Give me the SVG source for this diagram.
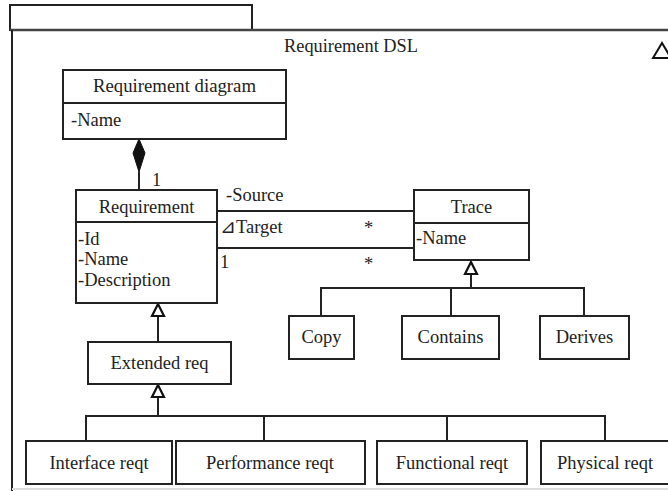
<svg xmlns="http://www.w3.org/2000/svg" width="668" height="491" viewBox="0 0 668 491" font-family="'Liberation Serif', 'DejaVu Serif', serif">
<style>
  .box{fill:#fff;stroke:#222;stroke-width:2}
  .ln{fill:none;stroke:#222;stroke-width:2}
  .gen{fill:#fff;stroke:#111;stroke-width:2.2;stroke-linejoin:miter}
  text{font-family:'Liberation Serif','DejaVu Serif',serif;font-size:18.5px;fill:#222}
  .c{text-anchor:middle}
</style>
<rect width="668" height="491" fill="#fff"/>
<g id="frame">
  <rect x="10" y="5" width="242" height="25" fill="none" stroke="#222" stroke-width="2"/>
  <line x1="10" y1="30" x2="668" y2="30" stroke="#444" stroke-width="2.5"/>
  <line x1="12" y1="30" x2="12" y2="491" stroke="#222" stroke-width="2"/>
  <line x1="12" y1="489" x2="668" y2="489" stroke="#ddd" stroke-width="2"/>
  <text x="351" y="52" class="c" textLength="134" lengthAdjust="spacingAndGlyphs">Requirement DSL</text>
  <polygon points="653,58 662,43 671,58" fill="none" stroke="#111" stroke-width="2"/>
</g>
<g id="connectors">
  <polygon points="139,139 145,153 139,172 133,153" fill="#111" stroke="#111" stroke-width="1"/>
  <line class="ln" x1="139" y1="172" x2="139" y2="190"/>
  <text x="152" y="186">1</text>
  <line class="ln" x1="217" y1="211" x2="414" y2="211"/>
  <line class="ln" x1="217" y1="248" x2="414" y2="248"/>
  <text x="226" y="201">-Source</text>
  <text x="220" y="233">⊿Target</text>
  <text x="364" y="234">*</text>
  <text x="364" y="270">*</text>
  <text x="220" y="268">1</text>
  <line class="ln" x1="471" y1="274" x2="471" y2="288"/>
  <polyline class="ln" points="321,316 321,288 584,288 584,316"/>
  <line class="ln" x1="451" y1="288" x2="451" y2="316"/>
  <polygon class="gen" points="471,262 477,274 465,274"/>
  <line class="ln" x1="158" y1="316" x2="158" y2="342"/>
  <polygon class="gen" points="158,304 164,316 152,316"/>
  <line class="ln" x1="158" y1="397" x2="158" y2="416"/>
  <polygon class="gen" points="158,385 164,397 152,397"/>
  <polyline class="ln" points="86,441 86,416 605,416 605,441"/>
  <line class="ln" x1="264" y1="416" x2="264" y2="441"/>
  <line class="ln" x1="447" y1="416" x2="447" y2="441"/>
</g>
<g id="requirement-diagram">
  <rect class="box" x="63" y="70" width="223" height="69"/>
  <line class="ln" x1="63" y1="103" x2="286" y2="103"/>
  <text x="174.5" y="92" class="c" textLength="163" lengthAdjust="spacingAndGlyphs">Requirement diagram</text>
  <text x="71" y="126">-Name</text>
</g>
<g id="requirement">
  <rect class="box" x="76" y="190" width="141" height="113"/>
  <line class="ln" x1="76" y1="222" x2="217" y2="222"/>
  <text x="146.5" y="213" class="c">Requirement</text>
  <text x="78" y="245">-Id</text>
  <text x="78" y="265">-Name</text>
  <text x="78" y="286">-Description</text>
</g>
<g id="trace">
  <rect class="box" x="414" y="190" width="115" height="70"/>
  <line class="ln" x1="414" y1="223" x2="529" y2="223"/>
  <text x="471.5" y="213" class="c">Trace</text>
  <text x="416" y="244">-Name</text>
</g>
<g id="copy">
  <rect class="box" x="289" y="316" width="65" height="43"/>
  <text x="321.5" y="343" class="c">Copy</text>
</g>
<g id="contains">
  <rect class="box" x="402" y="316" width="97" height="43"/>
  <text x="450.5" y="343" class="c">Contains</text>
</g>
<g id="derives">
  <rect class="box" x="540" y="316" width="89" height="43"/>
  <text x="584.5" y="343" class="c">Derives</text>
</g>
<g id="extended-req">
  <rect class="box" x="88" y="342" width="143" height="42"/>
  <text x="159.5" y="369" class="c">Extended req</text>
</g>
<g id="interface-reqt">
  <rect class="box" x="26" y="441" width="146" height="43"/>
  <text x="99" y="468.5" class="c">Interface reqt</text>
</g>
<g id="performance-reqt">
  <rect class="box" x="176" y="441" width="189" height="43"/>
  <text x="270" y="468.5" class="c">Performance reqt</text>
</g>
<g id="functional-reqt">
  <rect class="box" x="377" y="441" width="150" height="43"/>
  <text x="452" y="468.5" class="c">Functional reqt</text>
</g>
<g id="physical-reqt">
  <rect class="box" x="541" y="441" width="140" height="43"/>
  <text x="605" y="468.5" class="c">Physical reqt</text>
</g>
</svg>
